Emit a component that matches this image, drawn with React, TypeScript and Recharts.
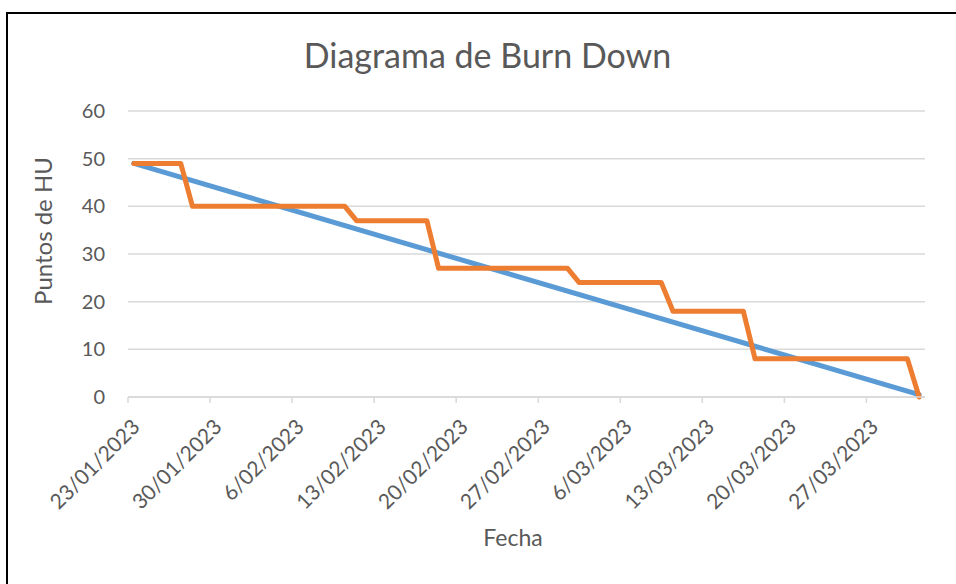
import { LineChart, Line, XAxis, YAxis, CartesianGrid, Label } from "recharts";

const START = "23/01/2023";

const idealDates = ["23/01/2023", "31/03/2023"];
const idealValues = [49, 0.5];

const actualDates = [
  "23/01/2023", "27/01/2023", "28/01/2023", "10/02/2023", "11/02/2023",
  "17/02/2023", "18/02/2023", "01/03/2023", "02/03/2023", "09/03/2023",
  "10/03/2023", "16/03/2023", "17/03/2023", "30/03/2023", "31/03/2023",
];
const actualValues = [49, 49, 40, 40, 37, 37, 27, 27, 24, 24, 18, 18, 8, 8, 0];

const tickLabels = [
  "23/01/2023", "30/01/2023", "6/02/2023", "13/02/2023", "20/02/2023",
  "27/02/2023", "6/03/2023", "13/03/2023", "20/03/2023", "27/03/2023",
];
const yTicks = [0, 10, 20, 30, 40, 50, 60];

const FONT = "Lato, 'Open Sans', sans-serif";
const GREY = "#595959";

// days since START (dd/mm/yyyy)
function dayIndex(s: string) {
  const [d, m, y] = s.split("/").map(Number);
  const [d0, m0, y0] = START.split("/").map(Number);
  return Math.round((Date.UTC(y, m - 1, d) - Date.UTC(y0, m0 - 1, d0)) / 86400000);
}

const idealData = idealDates.map((d, i) => ({ day: dayIndex(d), value: idealValues[i] }));
const actualData = actualDates.map((d, i) => ({ day: dayIndex(d), value: actualValues[i] }));
// Excel date axis: each day sits mid-slot, ticks on slot edges
const xTicks = tickLabels.map((t) => dayIndex(t) - 0.5);
const labelFor = (v: number) => tickLabels[xTicks.indexOf(v)] ?? "";

function DateTick({ x, y, payload }: any) {
  return (
    <g transform={`translate(${x},${y})`}>
      <text
        x={8}
        y={18}
        dy="0.35em"
        textAnchor="end"
        transform="rotate(-45, 8, 18)"
        fill={GREY}
        fontSize={21}
        fontFamily={FONT}
      >
        {labelFor(payload.value)}
      </text>
    </g>
  );
}

export default function App() {
  return (
    <div style={{ position: "absolute", left: 0, top: 0, width: 956, height: 584, background: "#fff" }}>
      <div
        style={{
          position: "absolute",
          left: 6,
          top: 12,
          width: 950,
          height: 572,
          boxSizing: "border-box",
          borderLeft: "2px solid #000",
          borderTop: "2px solid #000",
        }}
      />
      <div
        style={{
          position: "absolute",
          left: 0,
          top: 34,
          width: 975,
          textAlign: "center",
          fontFamily: FONT,
          fontSize: 34,
          color: GREY,
        }}
      >
        Diagrama de Burn Down
      </div>
      <LineChart
        width={956}
        height={584}
        margin={{ top: 111, right: 31, bottom: 37, left: 68 }}
        style={{ position: "absolute", left: 0, top: 0 }}
      >
        <CartesianGrid vertical={false} stroke="#d9d9d9" strokeWidth={1.5} />
        <XAxis
          dataKey="day"
          type="number"
          domain={[-0.5, 67.5]}
          ticks={xTicks}
          interval={0}
          height={150}
          stroke="#d9d9d9"
          strokeWidth={1.5}
          tickSize={6}
          tick={<DateTick />}
        >
          <Label
            content={() => (
              <text x={513} y={546} textAnchor="middle" fill={GREY} fontSize={23} fontFamily={FONT}>
                Fecha
              </text>
            )}
          />
        </XAxis>
        <YAxis
          type="number"
          domain={[0, 60]}
          ticks={yTicks}
          width={60}
          axisLine={false}
          tickLine={false}
          tickMargin={17}
          tick={{ fill: GREY, fontSize: 20, fontFamily: FONT }}
        >
          <Label
            content={() => (
              <text
                x={52}
                y={231}
                textAnchor="middle"
                transform="rotate(-90, 52, 231)"
                fill={GREY}
                fontSize={24}
                fontFamily={FONT}
              >
                Puntos de HU
              </text>
            )}
          />
        </YAxis>
        <Line
          data={idealData}
          dataKey="value"
          stroke="#5b9bd5"
          strokeWidth={5}
          dot={false}
          strokeLinejoin="round"
          strokeLinecap="round"
          isAnimationActive={false}
        />
        <Line
          data={actualData}
          dataKey="value"
          stroke="#ed7d31"
          strokeWidth={5}
          dot={false}
          strokeLinejoin="round"
          strokeLinecap="round"
          isAnimationActive={false}
        />
      </LineChart>
    </div>
  );
}
